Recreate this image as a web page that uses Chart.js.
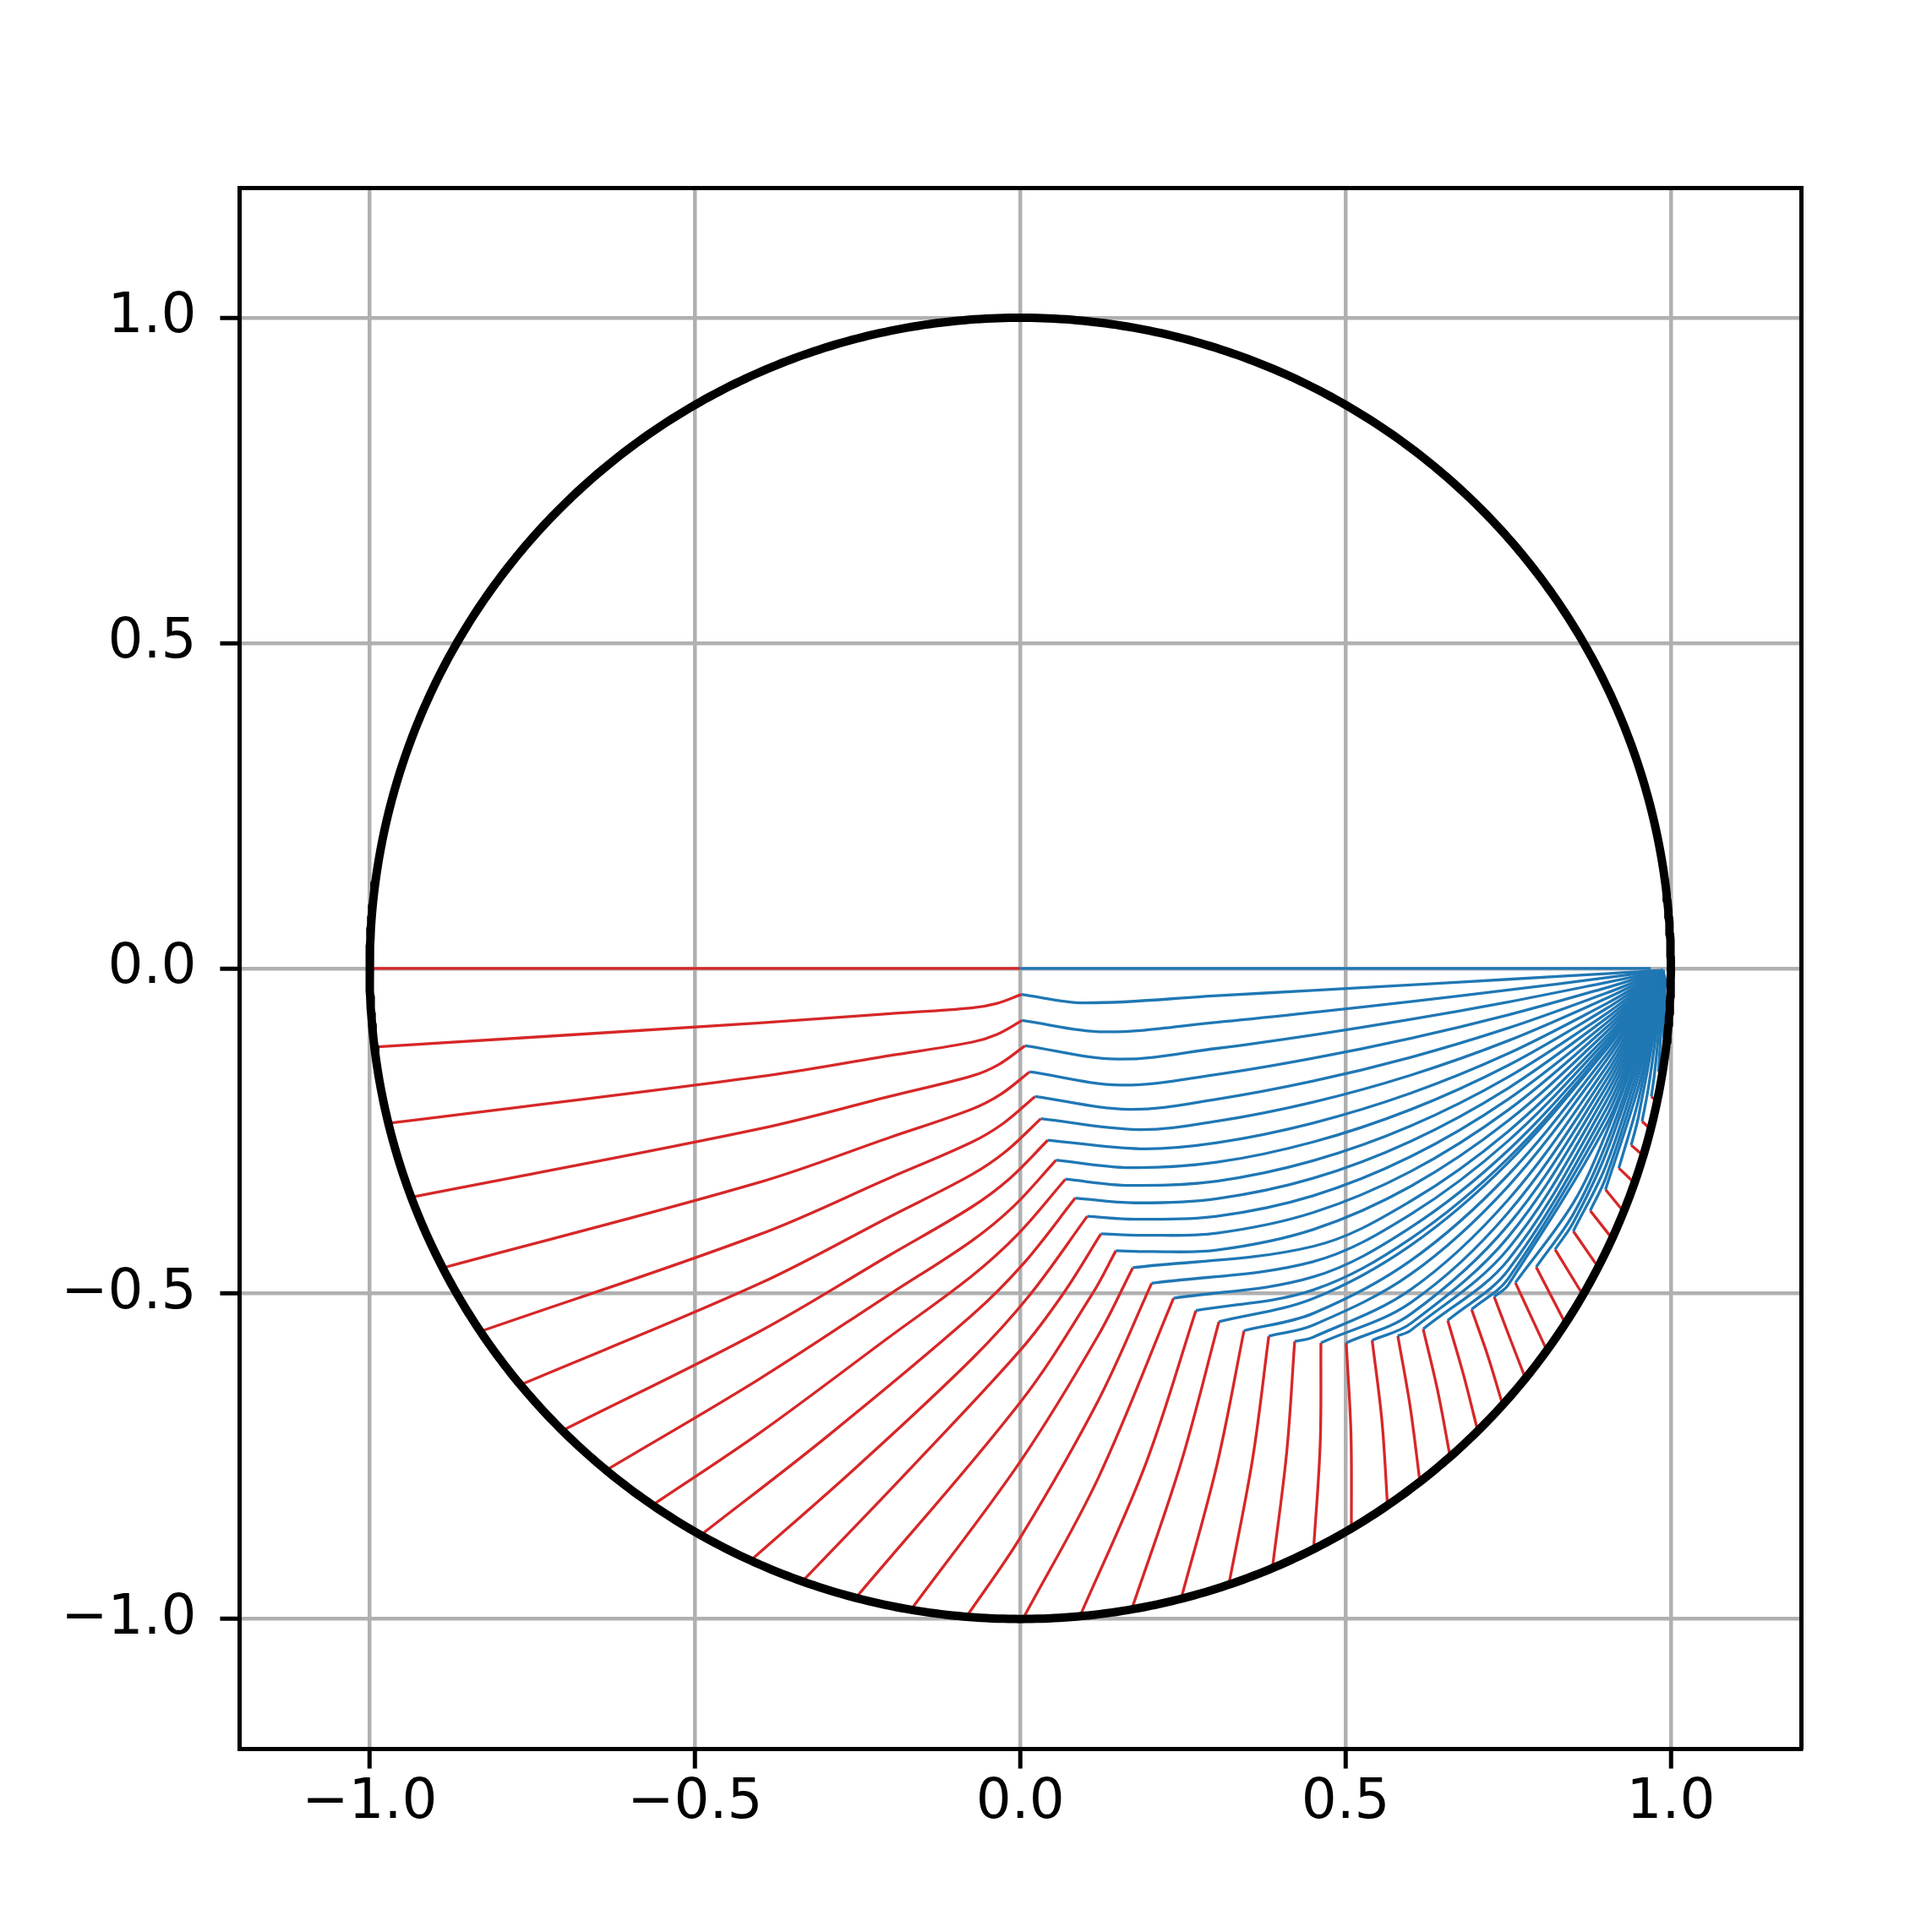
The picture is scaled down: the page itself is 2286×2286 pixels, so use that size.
<!DOCTYPE html>
<html><head><meta charset="utf-8">
<script src="https://cdn.jsdelivr.net/npm/chart.js@4.4.1/dist/chart.umd.min.js"></script>
<style>html,body{margin:0;padding:0;background:#fff;}canvas{display:block;}</style>
</head><body>
<canvas id="chart" width="2286" height="2286" style="width:2286px;height:2286px"></canvas>
<script>
const _ = null;
// axis
const axisMin = -1.2, axisMax = 1.2;
const tickValues = [-1, -0.5, 0, 0.5, 1];
const tickLabels = ['\u22121.0', '\u22120.5', '0.0', '0.5', '1.0'];
const circleRadius = 1.0;

// red paths: start on the circle -> intermediate points -> knee
const startX = [-1.0,-0.99265,-0.9712,-0.9361,-0.8877,-0.8298,-0.7683,-0.7038,-0.6365,-0.5651,-0.4911,-0.4143,-0.3350,-0.2527,-0.1680,-0.0828,0.0040,0.0917,0.1712,0.2472,0.3206,0.3875,0.4509,0.5090,0.5645,0.6143,0.6607,0.7032,0.7415,0.7765,0.8094,0.8379,0.8649,0.8883,0.9097,0.9275,0.9440,0.9577,0.9689,0.9788,0.9866,0.9923,0.9965,0.9990];
const startY = [0,-0.1210,-0.2382,-0.3517,-0.4604,-0.5581,-0.6401,-0.7104,-0.7713,-0.8250,-0.8711,-0.9101,-0.9422,-0.9675,-0.9858,-0.9966,-1.0,-0.9958,-0.9852,-0.9690,-0.9472,-0.9219,-0.8926,-0.8607,-0.8254,-0.7891,-0.7507,-0.7110,-0.6709,-0.6302,-0.5872,-0.5458,-0.5020,-0.4593,-0.4151,-0.3740,-0.3299,-0.2879,-0.2473,-0.2047,-0.1633,-0.1236,-0.0837,-0.0436];
const redAX = [_,-0.4008,-0.4008,-0.4008,-0.4008,-0.4008,-0.4008,-0.4008,-0.4008,-0.4008,-0.30,-0.25,-0.17,0.0,0.0,0.0,0.12,0.1926,0.2461,0.3026,0.3571,0.4094,0.461,0.5083,0.5559,0.5993,0.6416,0.6809,0.7183,0.7509,_,_,_,_,_,_,_,_,_,_,_,_,_,_];
const redAY = [_,-0.0838,-0.1665,-0.2466,-0.3288,-0.4090,-0.4846,-0.5581,-0.6310,-0.7143,-0.722,-0.765,-0.770,-0.667,-0.758,-0.875,-0.783,-0.7622,-0.7632,-0.7619,-0.7541,-0.7451,-0.7313,-0.7152,-0.6956,-0.6738,-0.6493,-0.6232,-0.5946,-0.564,_,_,_,_,_,_,_,_,_,_,_,_,_,_];
const redPX = [_,-0.20,-0.20,-0.20,-0.20,-0.20,-0.20,-0.20,-0.20,-0.20,_,_,_,_,_,_,_,_,_,_,_,_,_,_,_,_,_,_,_,_,_,_,_,_,_,_,_,_,_,_,_,_,_,_];
const redPY = [_,-0.0696,-0.1339,-0.1966,-0.2597,-0.3217,-0.3814,-0.4403,-0.5004,-0.5657,_,_,_,_,_,_,_,_,_,_,_,_,_,_,_,_,_,_,_,_,_,_,_,_,_,_,_,_,_,_,_,_,_,_];
const redBX = [_,-0.0748,-0.0748,-0.0748,-0.0748,-0.0748,-0.0748,-0.0748,-0.0748,-0.0748,-0.0748,-0.0748,0.0,0.111,0.12,0.12,_,_,_,_,_,_,_,_,_,_,_,_,_,_,_,_,_,_,_,_,_,_,_,_,_,_,_,_];
const redBY = [_,-0.0608,-0.1136,-0.1655,-0.2166,-0.2673,-0.3171,-0.3669,-0.4189,-0.4730,-0.5336,-0.6007,-0.587,-0.500,-0.564,-0.664,_,_,_,_,_,_,_,_,_,_,_,_,_,_,_,_,_,_,_,_,_,_,_,_,_,_,_,_];
const redHX = [_,-0.0364,-0.0359,-0.0337,-0.0302,-0.0261,-0.0216,-0.0162,-0.0099,-0.0027,0.0049,0.0141,_,_,_,_,_,_,_,_,_,_,_,_,_,_,_,_,_,_,_,_,_,_,_,_,_,_,_,_,_,_,_,_];
const redHY = [_,-0.0540,-0.1015,-0.1481,-0.1937,-0.2383,-0.2809,-0.3230,-0.3654,-0.4076,-0.4538,-0.5026,_,_,_,_,_,_,_,_,_,_,_,_,_,_,_,_,_,_,_,_,_,_,_,_,_,_,_,_,_,_,_,_];
const redCX = [_,_,_,_,_,_,_,_,_,_,_,_,0.066,_,_,_,_,_,_,_,_,_,_,_,_,_,_,_,_,_,_,_,_,_,_,_,_,_,_,_,_,_,_,_];
const redCY = [_,_,_,_,_,_,_,_,_,_,_,_,-0.500,_,_,_,_,_,_,_,_,_,_,_,_,_,_,_,_,_,_,_,_,_,_,_,_,_,_,_,_,_,_,_];

// knees (where red turns into blue)
const kneeX = [0,0.002,0.003,0.0074,0.0144,0.0226,0.0317,0.0425,0.0551,0.0694,0.0845,0.103,0.124,0.147,0.173,0.202,0.2356,0.270,0.3054,0.3439,0.382,0.4218,0.4621,0.501,0.5409,0.5803,0.6193,0.657,0.6937,0.7284,0.761,0.793,0.822,0.850,0.876,0.8995,0.920,0.939,0.9557,0.970,0.981,0.9893,0.9945,0.998];
const kneeY = [0,-0.040,-0.080,-0.119,-0.159,-0.197,-0.231,-0.264,-0.2946,-0.324,-0.353,-0.381,-0.408,-0.434,-0.460,-0.484,-0.507,-0.526,-0.5431,-0.5569,-0.5652,-0.5734,-0.5756,-0.5756,-0.5717,-0.5648,-0.5544,-0.541,-0.5241,-0.5046,-0.483,-0.459,-0.432,-0.404,-0.3725,-0.340,-0.307,-0.2716,-0.235,-0.197,-0.159,-0.1232,-0.0835,-0.0435];

// blue paths: knee -> dip -> values at fixed x positions -> end
const dipX = [_,0.098,0.129,0.150,0.155,0.168,0.181,0.185,0.168,0.168,0.175,0.177,0.19,0.20,_,_,_,_,_,_,_,_,_,_,_,_,_,_,_,_,_,_,_,_,_,_,_,_,_,_,_,_,_,_];
const dipY = [_,-0.053,-0.0976,-0.1395,-0.1794,-0.2167,-0.2478,-0.2773,-0.3063,-0.3336,-0.3604,-0.3855,-0.4102,-0.4353,_,_,_,_,_,_,_,_,_,_,_,_,_,_,_,_,_,_,_,_,_,_,_,_,_,_,_,_,_,_];
const blueSampleX = [0.302, 0.45, 0.60, 0.75, 0.85, 0.90, 0.95, 0.965, 0.975, 0.98, 0.985];
const blueY302 = [_,-0.042,-0.083,-0.123,-0.163,-0.201,-0.235,-0.268,-0.298,-0.327,-0.354,-0.381,-0.407,-0.433,_,_,_,_,_,_,_,_,_,_,_,_,_,_,_,_,_,_,_,_,_,_,_,_,_,_,_,_,_,_];
const blueY450 = [_,-0.0338,-0.0677,-0.1023,-0.1381,-0.1732,-0.2056,-0.2377,-0.2669,-0.2957,-0.3226,-0.3495,-0.3754,-0.4014,-0.4273,-0.4508,-0.4743,-0.4943,-0.5075,-0.5304,-0.5485,-0.5669,_,_,_,_,_,_,_,_,_,_,_,_,_,_,_,_,_,_,_,_,_,_];
const blueY600 = [_,-0.0254,-0.0510,-0.0784,-0.1075,-0.1367,-0.1642,-0.1919,-0.2170,-0.2423,-0.2658,-0.2894,-0.3122,-0.3350,-0.3578,-0.3781,-0.3983,-0.4154,-0.4258,-0.4493,-0.4701,-0.4937,-0.5138,-0.5314,-0.5459,-0.5566,_,_,_,_,_,_,_,_,_,_,_,_,_,_,_,_,_,_];
const blueY750 = [_,-0.0168,-0.0333,-0.0516,-0.0715,-0.0917,-0.1112,-0.1309,-0.1489,-0.1671,-0.1841,-0.2011,-0.2177,-0.2341,-0.2505,-0.2651,-0.2796,-0.2917,-0.2985,-0.3172,-0.3348,-0.3555,-0.3753,-0.3943,-0.4128,-0.4308,-0.4480,-0.4637,-0.4768,-0.4865,_,_,_,_,_,_,_,_,_,_,_,_,_,_];
const blueY850 = [_,_,_,_,_,_,_,_,_,_,_,_,_,_,_,_,_,_,_,_,_,_,_,_,_,_,_,_,_,_,-0.3605,-0.3777,-0.3907,_,_,_,_,_,_,_,_,_,_,_];
const blueY900 = [_,-0.0081,-0.0145,-0.0218,-0.0299,-0.0383,-0.0464,-0.0547,-0.0623,-0.0701,-0.0773,-0.0846,-0.0916,-0.0986,-0.1056,-0.1117,-0.1179,-0.1230,-0.1256,-0.1341,-0.1424,-0.1525,-0.1625,-0.1726,-0.1828,-0.1938,-0.2053,-0.2175,-0.2296,-0.2418,-0.2545,-0.2710,-0.2856,-0.3036,-0.3216,_,_,_,_,_,_,_,_,_];
const blueY950 = [_,-0.0052,-0.0080,-0.0113,-0.0148,-0.0186,-0.0223,-0.0260,-0.0294,-0.0329,-0.0361,-0.0394,-0.0425,-0.0457,-0.0489,-0.0517,-0.0544,-0.0567,-0.0579,-0.0618,-0.0656,-0.0703,-0.0750,-0.0797,-0.0848,-0.0901,-0.0958,-0.1019,-0.1083,-0.1148,-0.1218,-0.1313,-0.1403,-0.1522,-0.1660,-0.1826,-0.2026,-0.2291,_,_,_,_,_,_];
const blueY965 = [_,_,_,_,_,_,_,_,_,_,_,_,_,_,_,_,_,_,_,_,_,_,_,_,_,_,_,_,_,_,_,_,_,_,_,_,_,_,-0.186,_,_,_,_,_];
const blueY975 = [_,_,_,_,_,_,_,_,_,_,_,_,_,_,_,_,_,_,_,_,_,_,_,_,_,_,_,_,_,_,_,_,_,_,_,-0.0703,-0.0797,-0.0941,-0.1172,-0.1603,_,_,_,_];
const blueY980 = [_,_,_,_,_,_,_,_,_,_,_,_,_,_,_,_,_,_,_,_,_,_,_,_,_,_,_,_,_,_,_,_,_,_,_,_,_,_,_,-0.1104,_,_,_,_];
const blueY985 = [_,_,_,_,_,_,_,_,_,_,_,_,_,_,_,_,_,_,_,_,_,_,_,_,_,_,_,_,_,_,_,_,_,_,_,_,_,_,_,_,-0.091,_,_,_];
const endX = [0.969,0.988,0.988,0.988,0.988,0.988,0.988,0.988,0.988,0.988,0.988,0.988,0.988,0.988,0.988,0.988,0.988,0.988,0.988,0.988,0.988,0.988,0.988,0.988,0.988,0.988,0.988,0.988,0.988,0.988,0.988,0.988,0.988,0.988,0.988,0.988,0.988,0.988,0.988,0.988,0.988,0.988,0.988,0.988];
const endY = [0,-0.003,-0.003,-0.003,-0.003,-0.003,-0.003,-0.003,-0.003,-0.003,-0.003,-0.003,-0.003,-0.003,-0.003,-0.003,-0.003,-0.003,-0.003,-0.003,-0.003,-0.003,-0.003,-0.003,-0.003,-0.003,-0.003,-0.003,-0.003,-0.003,-0.003,-0.003,-0.003,-0.003,-0.003,-0.003,-0.003,-0.003,-0.003,-0.003,-0.003,-0.003,-0.003,-0.003];

const RED = '#d62728', BLUE = '#1f77b4';
const blueSampleY = [blueY302, blueY450, blueY600, blueY750, blueY850, blueY900, blueY950, blueY965, blueY975, blueY980, blueY985];

const datasets = [];
// unit circle (reference geometry)
const circlePts = [];
for (let k = 0; k <= 720; k++) {
  const a = k * Math.PI / 360;
  circlePts.push({x: circleRadius * Math.cos(a), y: circleRadius * Math.sin(a)});
}
datasets.push({data: circlePts, showLine: true, borderColor: '#000', borderWidth: 10, pointRadius: 0, tension: 0, order: 0, borderJoinStyle: 'round'});

for (let i = 0; i < kneeX.length; i++) {
  // red
  const r = [{x: startX[i], y: startY[i]}];
  if (redAX[i] !== null) r.push({x: redAX[i], y: redAY[i]});
  if (redPX[i] !== null) r.push({x: redPX[i], y: redPY[i]});
  if (redBX[i] !== null) r.push({x: redBX[i], y: redBY[i]});
  if (redHX[i] !== null) r.push({x: redHX[i], y: redHY[i]});
  if (redCX[i] !== null) r.push({x: redCX[i], y: redCY[i]});
  r.push({x: kneeX[i], y: kneeY[i]});
  datasets.push({data: r, showLine: true, borderColor: RED, borderWidth: 3.3, pointRadius: 0,
    tension: r.length > 2 ? 0.35 : 0, order: 2, borderJoinStyle: 'round'});
  // blue
  const b = [{x: kneeX[i], y: kneeY[i]}];
  let lastX = kneeX[i];
  if (dipX[i] !== null) { b.push({x: dipX[i], y: dipY[i]}); lastX = dipX[i]; }
  for (let s = 0; s < blueSampleX.length; s++) {
    const v = blueSampleY[s][i];
    if (v !== null && blueSampleX[s] > lastX) { b.push({x: blueSampleX[s], y: v}); lastX = blueSampleX[s]; }
  }
  b.push({x: endX[i], y: endY[i]});
  datasets.push({data: b, showLine: true, borderColor: BLUE, borderWidth: 3.3, pointRadius: 0,
    tension: b.length > 2 ? 0.35 : 0, order: 1, borderJoinStyle: 'round'});
}

const labelFor = (v) => { const k = tickValues.findIndex(t => Math.abs(t - v) < 1e-9); return k >= 0 ? tickLabels[k] : ''; };
const tickFont = {family: 'DejaVu Sans', size: 66};
const setTicks = (axis) => { axis.ticks = tickValues.map(v => ({value: v})); };

new Chart(document.getElementById('chart'), {
  type: 'scatter',
  data: {datasets},
  options: {
    responsive: false, animation: false, devicePixelRatio: 1,
    layout: {padding: {left: 0, right: 155, top: 222, bottom: 0}},
    plugins: {legend: {display: false}, tooltip: {enabled: false}},
    events: [],
    scales: {
      x: {type: 'linear', position: 'bottom', min: axisMin, max: axisMax,
        afterBuildTicks: setTicks, afterFit: (s) => { s.height = 216.4; },
        ticks: {callback: (v) => labelFor(v), font: tickFont, color: '#000', padding: 2, maxRotation: 0, autoSkip: false},
        grid: {color: '#b0b0b0', lineWidth: 4.5, tickColor: '#000', tickWidth: 5, tickLength: 23},
        border: {color: '#000', width: 5}},
      y: {type: 'linear', position: 'left', min: axisMin, max: axisMax,
        afterBuildTicks: setTicks, afterFit: (s) => { s.width = 283.4; },
        ticks: {callback: (v) => labelFor(v), font: tickFont, color: '#000', padding: 28, autoSkip: false},
        grid: {color: '#b0b0b0', lineWidth: 4.5, tickColor: '#000', tickWidth: 5, tickLength: 23},
        border: {color: '#000', width: 5}},
      xTop: {type: 'linear', position: 'top', min: axisMin, max: axisMax, display: true,
        afterFit: (s) => { s.height = 0; },
        ticks: {display: false}, grid: {display: false, drawTicks: false},
        border: {color: '#000', width: 5}},
      yRight: {type: 'linear', position: 'right', min: axisMin, max: axisMax, display: true,
        afterFit: (s) => { s.width = 0; },
        ticks: {display: false}, grid: {display: false, drawTicks: false},
        border: {color: '#000', width: 5}}
    }
  }
});
</script>
</body></html>
